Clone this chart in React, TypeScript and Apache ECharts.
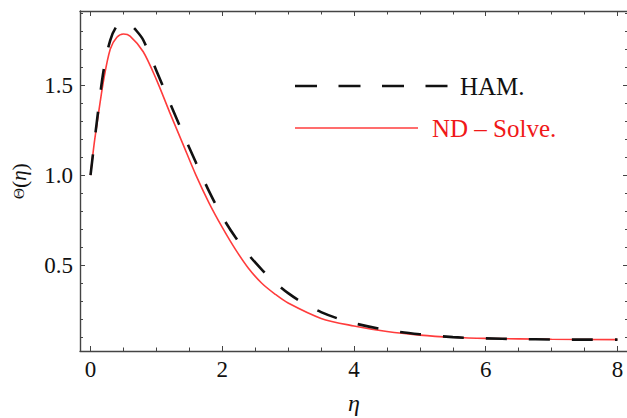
import React, { useEffect, useRef } from "react";
import * as echarts from "echarts";

// η samples and Θ(η) values for the HAM solution
const hamEta = [0, 0.1, 0.2, 0.3, 0.4, 0.5, 0.6, 0.7, 0.8, 1.0, 1.2, 1.4, 1.6, 1.8, 2.0, 2.2, 2.4, 2.6, 2.8, 3.0, 3.25, 3.5, 3.75, 4.0, 4.5, 5.0, 5.5, 6.0, 6.5, 7.0, 7.5, 8.0];
const hamTheta = [1.0, 1.31, 1.585, 1.75, 1.828, 1.846, 1.835, 1.8, 1.75, 1.58, 1.405, 1.235, 1.07, 0.91, 0.77, 0.655, 0.558, 0.476, 0.405, 0.345, 0.285, 0.24, 0.205, 0.178, 0.14, 0.117, 0.101, 0.094, 0.09, 0.088, 0.087, 0.087];

// η samples and Θ(η) values for the numerical (NDSolve) solution
const ndEta = [0, 0.05, 0.1, 0.2, 0.3, 0.4, 0.5, 0.6, 0.8, 1.0, 1.2, 1.4, 1.6, 1.8, 2.0, 2.2, 2.4, 2.6, 2.8, 3.0, 3.5, 4.0, 4.5, 5.0, 5.5, 6.0, 7.0, 8.0];
const ndTheta = [1.0, 1.16, 1.29, 1.53, 1.7, 1.765, 1.783, 1.772, 1.685, 1.53, 1.35, 1.175, 1.0, 0.845, 0.71, 0.588, 0.482, 0.4, 0.34, 0.29, 0.205, 0.163, 0.132, 0.112, 0.1, 0.094, 0.089, 0.087];

// Tick positions
const xMajorTicks = [0, 2, 4, 6, 8];
const xMinorTicks = [0.5, 1, 1.5, 2.5, 3, 3.5, 4.5, 5, 5.5, 6.5, 7, 7.5];
const yMajorTicks = [0.5, 1.0, 1.5];
const yMinorTicks = [0.1, 0.2, 0.3, 0.4, 0.6, 0.7, 0.8, 0.9, 1.1, 1.2, 1.3, 1.4, 1.6, 1.7, 1.8, 1.9];

const seriesNames = ["HAM.", "ND \u2013 Solve."];

const X_MIN = -0.16;
const X_MAX = 8.16;
const Y_MIN = 0.024;
const Y_MAX = 1.911;

const FRAME = "#444";
const SERIF = "'Liberation Serif', 'DejaVu Serif', serif";
const RED = "#ff3c3c";

function frameAxis(
  position: string,
  ticks: number[],
  len: number,
  min: number,
  max: number,
  showLine: boolean,
  showLabel: boolean,
  fmt?: (v: number) => string
): any {
  return {
    type: "value",
    position,
    min,
    max,
    axisLine: { show: showLine, onZero: false, lineStyle: { color: FRAME, width: 1.4 } },
    axisTick: {
      show: true,
      inside: true,
      length: len,
      customValues: ticks,
      lineStyle: { color: FRAME, width: 1 },
    },
    axisLabel: showLabel
      ? {
          show: true,
          customValues: ticks,
          formatter: fmt,
          color: "#111",
          fontFamily: SERIF,
          fontSize: 23,
          margin: 7,
        }
      : { show: false },
    splitLine: { show: false },
  };
}

export default function App() {
  const ref = useRef<HTMLDivElement>(null);

  useEffect(() => {
    if (!ref.current) return;
    const chart = echarts.init(ref.current, undefined, { renderer: "svg" });

    const xBottom = frameAxis("bottom", xMajorTicks, 5, X_MIN, X_MAX, true, true, (v: number) => String(Math.round(v)));
    xBottom.name = "\u03b7";
    xBottom.nameLocation = "middle";
    xBottom.nameGap = 40;
    xBottom.nameTextStyle = { fontFamily: SERIF, fontStyle: "italic", fontSize: 24, color: "#111" };

    const yLeft = frameAxis("left", yMajorTicks, 5, Y_MIN, Y_MAX, true, true, (v: number) => v.toFixed(1));
    yLeft.name = "{t|\u0398}{p|(}{e|\u03b7}{p|)}";
    yLeft.nameLocation = "middle";
    yLeft.nameGap = 50;
    yLeft.nameRotate = 90;
    yLeft.nameTextStyle = {
      color: "#111",
      rich: {
        t: { fontFamily: SERIF, fontSize: 15, color: "#111" },
        p: { fontFamily: SERIF, fontSize: 22, color: "#111" },
        e: { fontFamily: SERIF, fontSize: 21, fontStyle: "italic", color: "#111" },
      },
    };

    const option: any = {
      animation: false,
      backgroundColor: "#fff",
      grid: { left: 80, right: -1, top: 11, bottom: 67, containLabel: false, outerBoundsMode: "none" },
      xAxis: [
        xBottom,
        frameAxis("bottom", xMinorTicks, 3.5, X_MIN, X_MAX, false, false),
        frameAxis("top", xMajorTicks, 5, X_MIN, X_MAX, true, false),
        frameAxis("top", xMinorTicks, 3.5, X_MIN, X_MAX, false, false),
      ],
      yAxis: [
        yLeft,
        frameAxis("left", yMinorTicks, 3, Y_MIN, Y_MAX, false, false),
        frameAxis("right", yMajorTicks, 5, Y_MIN, Y_MAX, true, false),
        frameAxis("right", yMinorTicks, 3, Y_MIN, Y_MAX, false, false),
      ],
      series: [
        {
          name: seriesNames[1],
          type: "line",
          xAxisIndex: 0,
          yAxisIndex: 0,
          data: ndEta.map((x, i) => [x, ndTheta[i]]),
          showSymbol: false,
          smooth: 0.3,
          lineStyle: { color: RED, width: 1.6 },
          z: 2,
        },
        {
          name: seriesNames[0],
          type: "line",
          xAxisIndex: 0,
          yAxisIndex: 0,
          data: hamEta.map((x, i) => [x, hamTheta[i]]),
          showSymbol: false,
          smooth: 0.3,
          lineStyle: { color: "#111", width: 2.6, type: [21, 22] },
          z: 3,
        },
      ],
      graphic: [
        {
          type: "line",
          shape: { x1: 295, y1: 86, x2: 449, y2: 86 },
          style: { stroke: "#111", lineWidth: 2.6, lineDash: [22, 21.5] },
        },
        {
          type: "text",
          x: 460,
          y: 86,
          style: {
            text: seriesNames[0],
            fill: "#111",
            font: `25px ${SERIF}`,
            verticalAlign: "middle",
            align: "left",
          },
        },
        {
          type: "line",
          shape: { x1: 295, y1: 128, x2: 418, y2: 128 },
          style: { stroke: RED, lineWidth: 1.6 },
        },
        {
          type: "text",
          x: 432,
          y: 128,
          style: {
            text: seriesNames[1],
            fill: "#f01818",
            font: `25px ${SERIF}`,
            verticalAlign: "middle",
            align: "left",
          },
        },
      ],
    };

    chart.setOption(option);
    return () => chart.dispose();
  }, []);

  return (
    <div
      ref={ref}
      style={{ position: "fixed", left: 0, top: 0, width: 627, height: 418, background: "#fff" }}
    />
  );
}
